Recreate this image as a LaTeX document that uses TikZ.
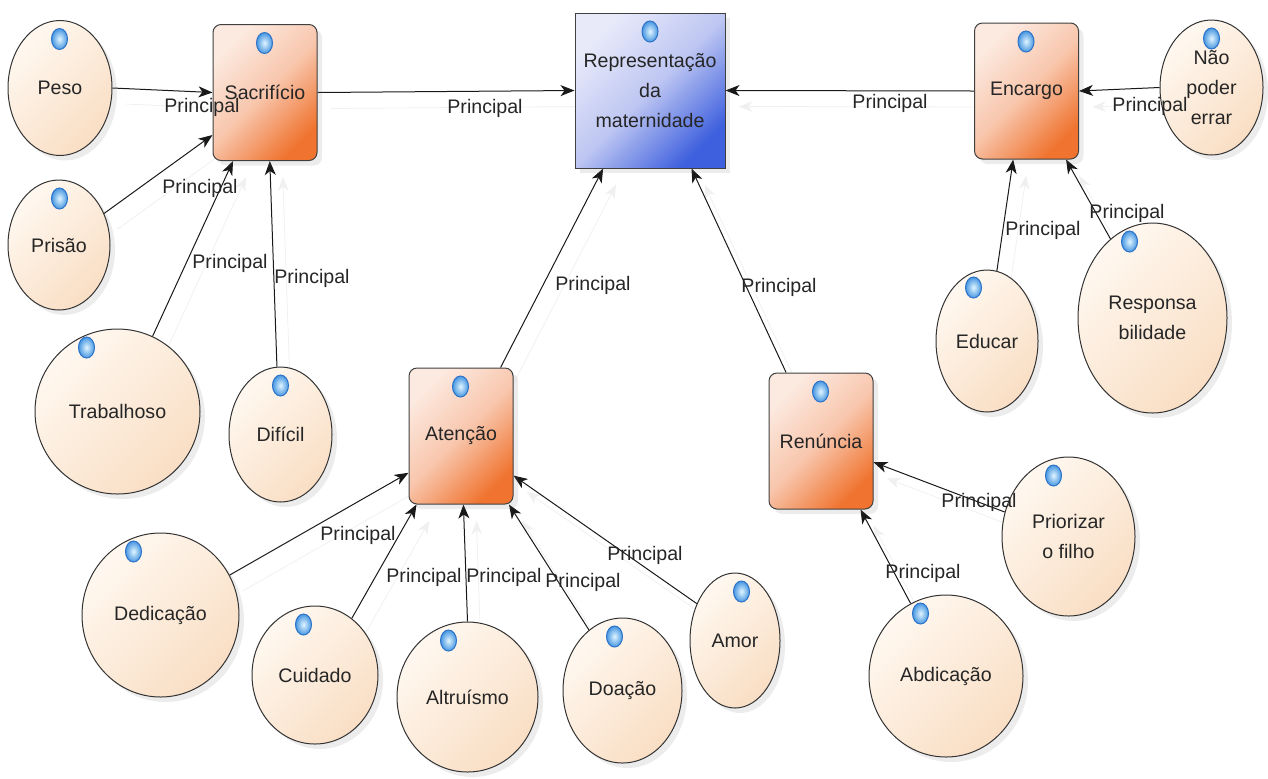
\documentclass[tikz,border=0pt]{standalone}
\usepackage{fontspec}
\setmainfont{Liberation Sans}
\usetikzlibrary{arrows.meta,shapes.geometric,shadows,backgrounds}
\definecolor{CircleLightClr}{RGB}{255,248,240}
\definecolor{CircleDarkClr}{RGB}{249,222,196}
\definecolor{BoxLightClr}{RGB}{252,234,225}
\definecolor{BoxMidClr}{RGB}{248,198,172}
\definecolor{BoxDarkClr}{RGB}{240,116,48}
\definecolor{MainLightClr}{RGB}{232,234,250}
\definecolor{MainMidClr}{RGB}{190,198,242}
\definecolor{MainDarkClr}{RGB}{62,96,222}
\definecolor{BeadInClr}{RGB}{225,245,255}
\definecolor{BeadClr}{RGB}{70,150,225}
\definecolor{BeadRimClr}{RGB}{45,115,200}
\definecolor{LineClr}{RGB}{25,25,25}

\tikzset{
  every node/.style={font=\fontsize{9.8}{15}\selectfont, text=black!85},
  ideia/.style={ellipse, draw=black!80, line width=0.5pt, inner sep=0pt, align=center,
    top color=CircleLightClr, bottom color=CircleDarkClr, shading angle=45,
    drop shadow={shadow xshift=2.5pt, shadow yshift=-2.5pt, opacity=0.12, fill=black!60}},
  caixa/.style={rectangle, rounded corners=4pt, draw=black!75, line width=0.5pt, align=center,
    minimum width=52pt, minimum height=68pt, inner sep=0pt,
    top color=BoxLightClr, bottom color=BoxDarkClr, middle color=BoxMidClr, shading angle=45,
    drop shadow={shadow xshift=2.5pt, shadow yshift=-2.5pt, opacity=0.12, fill=black!60}},
  principal/.style={sharp corners, minimum width=75pt, minimum height=77.5pt,
    top color=MainLightClr, bottom color=MainDarkClr, middle color=MainMidClr, shading angle=45},
  bead/.style={ellipse, minimum width=8pt, minimum height=10.5pt, inner sep=0pt,
    draw=BeadRimClr, line width=0.5pt, inner color=BeadInClr, outer color=BeadClr},
  rel/.style={draw=LineClr, line width=0.5pt, -{Stealth[length=7pt,width=5.5pt,inset=2pt]},
    preaction={draw=black!6, transform canvas={shift={(6.5pt,-8pt)}}}},
  rotulo/.style={inner sep=0pt}
}

\begin{document}
\begin{tikzpicture}[x=0.5pt,y=-0.5pt]
\useasboundingbox (0,0) rectangle (1268,778);

\node[caixa, principal] (rep) at (650,90.5) {Representação\\da\\maternidade};
\node[caixa] (sac) at (265,92.5) {Sacrifício};
\node[caixa] (enc) at (1026.5,91) {Encargo};
\node[caixa] (ate) at (461,436) {Atenção};
\node[caixa] (ren) at (821,441) {Renúncia};

\node[ideia, minimum width=52pt, minimum height=67.5pt] (peso) at (60,88) {Peso};
\node[ideia, minimum width=51pt, minimum height=65pt] (prisao) at (59,245) {Prisão};
\node[ideia, minimum width=82.5pt, minimum height=82.5pt] (trab) at (117.5,411.5) {Trabalhoso};
\node[ideia, minimum width=51.5pt, minimum height=67.5pt] (dif) at (280.5,434.5) {Difícil};
\node[ideia, minimum width=78.5pt, minimum height=82pt] (ded) at (160.5,615) {Dedicação};
\node[ideia, minimum width=63pt, minimum height=69pt] (cui) at (315,675) {Cuidado};
\node[ideia, minimum width=70.5pt, minimum height=75pt] (alt) at (467.5,697) {Altruísmo};
\node[ideia, minimum width=59.5pt, minimum height=72.5pt] (doa) at (622.5,690.5) {Doação};
\node[ideia, minimum width=45pt, minimum height=67.5pt] (amor) at (735,640.5) {Amor};
\node[ideia, minimum width=66.5pt, minimum height=79.5pt] (pri) at (1068.5,536.5) {Priorizar\\o filho};
\node[ideia, minimum width=77pt, minimum height=81pt] (abd) at (946,676) {Abdicação};
\node[ideia, minimum width=51pt, minimum height=71pt] (edu) at (987,341) {Educar};
\node[ideia, minimum width=74.5pt, minimum height=95pt] (resp) at (1152.5,318) {Responsa\\bilidade};
\node[ideia, minimum width=51.5pt, minimum height=67.5pt] (nao) at (1211.5,87.5) {Não\\poder\\errar};

\foreach \n in {sac,enc,ate,ren,peso,prisao,trab,dif,ded,cui,alt,doa,amor,pri,abd,resp,nao}
  \node[bead, xshift=26pt, yshift=-9.5pt] (\n-b) at (\n.west |- \n.north) {};
\node[bead, xshift=19pt, yshift=-9pt] (edu-b) at (edu.west |- edu.north) {};
\node[bead, yshift=-9.5pt] (rep-b) at (rep.north) {};

\begin{scope}[on background layer]
\draw[rel] (peso.east) -- (sac.west);
\draw[rel] (sac.east) -- (rep.west);
\draw[rel] (enc.west) -- (rep.east);
\draw[rel] (nao.west) -- (enc.east);
\draw[rel] (prisao.35) -- (sac.219);
\draw[rel] (trab.65) -- (sac.245);
\draw[rel] (dif.93) -- (sac.274);
\draw[rel] (ate.60) -- (rep.239);
\draw[rel] (ren.117) -- (rep.298);
\draw[rel] (edu.82) -- (enc.259);
\draw[rel] (resp.118) -- (enc.300);
\draw[rel] (ded.30) -- (ate.215);
\draw[rel] (cui.57) -- (ate.237);
\draw[rel] (alt.90) -- (ate.272);
\draw[rel] (doa.119) -- (ate.305);
\draw[rel] (amor.136) -- (ate.323);
\draw[rel] (pri.159) -- (ren.338);
\draw[rel] (abd.116) -- (ren.300);
\end{scope}

\node[rotulo] (l-peso) at (202,107) {Principal};
\node[rotulo] (l-sac) at (485,108) {Principal};
\node[rotulo] (l-enc) at (890,103) {Principal};
\node[rotulo] (l-nao) at (1150,106) {Principal};
\node[rotulo] (l-prisao) at (200,188) {Principal};
\node[rotulo] (l-trab) at (230,263) {Principal};
\node[rotulo] (l-dif) at (312,278) {Principal};
\node[rotulo] (l-ate) at (593,285) {Principal};
\node[rotulo] (l-ren) at (779,287) {Principal};
\node[rotulo] (l-edu) at (1043,230) {Principal};
\node[rotulo] (l-resp) at (1127,213) {Principal};
\node[rotulo] (l-ded) at (358,535) {Principal};
\node[rotulo] (l-cui) at (424,577) {Principal};
\node[rotulo] (l-alt) at (504,577) {Principal};
\node[rotulo] (l-doa) at (583,582) {Principal};
\node[rotulo] (l-amor) at (645,555) {Principal};
\node[rotulo] (l-pri) at (979,502) {Principal};
\node[rotulo] (l-abd) at (923,573) {Principal};
\end{tikzpicture}
\end{document}
